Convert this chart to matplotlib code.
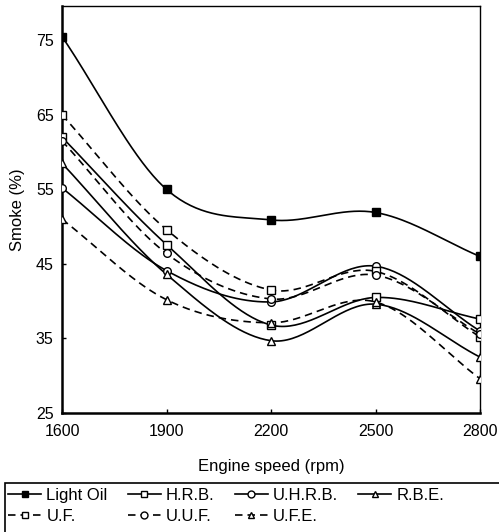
import matplotlib
import numpy as np

matplotlib.use("Agg")
import matplotlib.pyplot as plt  # noqa: E402
from matplotlib.patches import Rectangle  # noqa: E402

plt.rcParams.update({"font.family": ["Liberation Sans", "DejaVu Sans"],
                     "font.size": 11})

speed = [1600, 1900, 2200, 2500, 2800]
light_oil = [75.5, 55.0, 50.9, 51.9, 46.0]
hrb = [62.0, 47.6, 36.8, 40.5, 37.6]
uhrb = [55.2, 44.1, 39.9, 44.7, 36.0]
rbe = [58.5, 43.6, 34.7, 39.6, 32.5]
uf = [65.0, 49.6, 41.5, 44.0, 35.2]
uuf = [61.5, 46.4, 40.3, 43.5, 35.6]
ufe = [51.0, 40.2, 37.1, 39.9, 29.6]

labels = ["Light Oil", "H.R.B.", "U.H.R.B.", "R.B.E.", "U.F.", "U.U.F.", "U.F.E."]
series = [light_oil, hrb, uhrb, rbe, uf, uuf, ufe]
markers = ["s", "s", "o", "^", "s", "o", "^"]
dashed = [False, False, False, False, True, True, True]


def smooth(x, y, n=40):
    """Catmull-Rom curve through the points, like a spreadsheet 'smoothed line'."""
    x = np.asarray(x, float)
    y = np.asarray(y, float)
    px = np.concatenate([[2 * x[0] - x[1]], x, [2 * x[-1] - x[-2]]])
    py = np.concatenate([[2 * y[0] - y[1]], y, [2 * y[-1] - y[-2]]])
    xs, ys = [], []
    t = np.linspace(0, 1, n)
    for i in range(1, len(px) - 2):
        for p, out in ((px, xs), (py, ys)):
            p0, p1, p2, p3 = p[i - 1], p[i], p[i + 1], p[i + 2]
            out.extend(0.5 * (2 * p1 + (-p0 + p2) * t
                              + (2 * p0 - 5 * p1 + 4 * p2 - p3) * t ** 2
                              + (-p0 + 3 * p1 - 3 * p2 + p3) * t ** 3))
    return np.array(xs), np.array(ys)


fig = plt.figure(figsize=(4.99, 5.32), dpi=100)
ax = fig.add_axes([62 / 499, 1 - 413 / 532, 418 / 499, 407 / 532])

handles = []
for lab, y, m, d in zip(labels, series, markers, dashed):
    ls = (0, (4.5, 3)) if d else "-"
    xs, ys = smooth(speed, y)
    ax.plot(xs, ys, color="black", lw=1.2, ls=ls, zorder=2)
    fc = "black" if lab == "Light Oil" else "white"
    ax.plot(speed, y, ls="none", marker=m, ms=5.5, mfc=fc, mec="black",
            mew=1.0, zorder=3)
    h, = ax.plot([], [], color="black", lw=1.2, ls=ls, marker=m, ms=5,
                 mfc=fc, mec="black", mew=1.0)
    handles.append(h)

ax.set_xlim(1600, 2800)
ax.set_ylim(25, 79.6)
ax.set_xticks(speed)
ax.set_yticks([25, 35, 45, 55, 65, 75])
ax.tick_params(direction="in", length=3, width=1, labelsize=11.5, pad=6)
ax.tick_params(axis="x", pad=8)
ax.spines["left"].set_linewidth(1.8)
ax.spines["bottom"].set_linewidth(1.8)
ax.spines["top"].set_linewidth(1.0)
ax.spines["right"].set_linewidth(1.0)
ax.set_xlabel("Engine speed (rpm)", fontsize=12, labelpad=14)
ax.set_ylabel("Smoke (%)", fontsize=12, labelpad=8)

# legend box: open to the right and bottom, as in the cropped original
fig.patches.append(Rectangle((5 / 499, -0.1), 1.1, 0.1 + (532 - 483) / 532,
                             transform=fig.transFigure, fill=False,
                             edgecolor="black", lw=1.2))
order = [0, 4, 1, 5, 2, 6, 3]
fig.legend([handles[i] for i in order], [labels[i] for i in order],
           ncol=4, loc="upper left", bbox_to_anchor=(8 / 499, 1 - 488 / 532),
           fontsize=12, frameon=False, handlelength=2.0, handletextpad=0.3,
           columnspacing=1.2, borderpad=0, labelspacing=0.35, borderaxespad=0)

fig.savefig("out.png", dpi=100)
